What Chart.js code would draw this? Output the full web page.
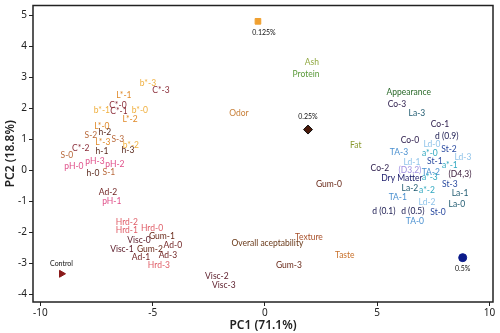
<!DOCTYPE html>
<html>
<head>
<meta charset="utf-8">
<script src="https://cdn.jsdelivr.net/npm/chart.js@4.4.1/dist/chart.umd.min.js"></script>
<style>
  html, body { margin: 0; padding: 0; background: #fff; }
  #wrap { width: 500px; height: 333px; }
</style>
</head>
<body>
<div id="wrap"><canvas id="pca"></canvas></div>
<script>
// Sample scores (PC1, PC2)
const sampleNames = ['0.125%', '0.25%', '0.5%', 'Control'];
const sampleX = [-0.31, 1.92, 8.81, -9.06];
const sampleY = [4.81, 1.32, -2.81, -3.33];

// Variable loadings (label positions, PC1 / PC2)
const varNames = [
  'b*-3', 'C*-3', 'L*-1', 'C*-0', 'b*-1', 'C*-1', 'b*-0', 'L*-2', 'Odor', 'L*-0',
  'S-2', 'h-2', 'L*-3', 'S-3', 'b*-2', 'h-1', 'h-3', 'C*-2', 'S-0', 'pH-0',
  'pH-3', 'pH-2', 'h-0', 'S-1', 'Ad-2', 'pH-1', 'Hrd-2', 'Hrd-1', 'Hrd-0', 'Visc-0',
  'Gum-1', 'Visc-1', 'Gum-2', 'Ad-0', 'Ad-1', 'Ad-3', 'Hrd-3', 'Visc-2', 'Visc-3',
  'Overall aceptability', 'Texture', 'Taste', 'Gum-3', 'Gum-0',
  'Ash', 'Protein', 'Appearance', 'Co-3', 'La-3', 'Co-1', 'd (0.9)', 'Fat', 'Co-0',
  'Ld-0', 'St-2', 'TA-3', 'a*-0', 'Ld-3', 'Ld-1', 'St-1', 'a*-1', 'Co-2', '(D3,2)',
  'TA-2', '(D4,3)', 'Dry Matter', 'a*-3', 'St-3', 'La-2', 'a*-2', 'La-1', 'TA-1',
  'Ld-2', 'La-0', 'd (0.1)', 'd (0.5)', 'St-0', 'TA-0'
];
const varX = [
  -5.21, -4.63, -6.28, -6.55, -7.26, -6.50, -5.57, -6.01, -1.16, -7.26,
  -7.75, -7.13, -7.22, -6.55, -5.97, -7.26, -6.10, -8.20, -8.82, -8.51,
  -7.57, -6.68, -7.66, -6.95, -6.99, -6.82, -6.15, -6.15, -5.03, -5.61,
  -4.59, -6.37, -5.12, -4.10, -5.52, -4.32, -4.72, -2.14, -1.83,
  0.11, 1.96, 3.56, 1.07, 2.85,
  2.09, 1.83, 6.41, 5.88, 6.77, 7.80, 8.10, 4.05, 6.46,
  7.44, 8.20, 5.97, 7.35, 8.82, 6.55, 7.57, 8.24, 5.12, 6.46,
  7.39, 8.69, 6.10, 7.35, 8.24, 6.46, 7.22, 8.69, 5.92,
  7.22, 8.55, 5.30, 6.59, 7.71, 6.68
];
const varY = [
  2.80, 2.58, 2.42, 2.10, 1.95, 1.91, 1.95, 1.66, 1.85, 1.44,
  1.12, 1.22, 0.90, 1.00, 0.80, 0.61, 0.64, 0.71, 0.49, 0.14,
  0.30, 0.20, -0.09, -0.05, -0.69, -0.98, -1.67, -1.92, -1.87, -2.25,
  -2.12, -2.53, -2.53, -2.40, -2.79, -2.72, -3.07, -3.42, -3.71,
  -2.34, -2.15, -2.72, -3.04, -0.43,
  3.50, 3.09, 2.52, 2.14, 1.85, 1.50, 1.09, 0.80, 0.96,
  0.84, 0.68, 0.58, 0.55, 0.42, 0.27, 0.30, 0.17, 0.07, 0.01,
  -0.05, -0.12, -0.24, -0.21, -0.43, -0.56, -0.63, -0.75, -0.85,
  -1.01, -1.10, -1.32, -1.32, -1.36, -1.64
];

// colours by variable group
const groupColors = {
  'L*': '#e08a2a', 'b*': '#f0b040', 'C*': '#8b2e3a', 'h-': '#5a2a1e', 'S-': '#b8683a',
  'pH': '#e0508a', 'Ad': '#6e1f1f', 'Hr': '#e0606a', 'Vi': '#5a1a28', 'Gu': '#6a2a1a',
  'Od': '#c8803a', 'Te': '#a8502a', 'Ta': '#c8702a', 'Ov': '#6a3a1a',
  'As': '#90a840', 'Pr': '#5a9a3a', 'Fa': '#8a9a30', 'Ap': '#2a6a2a',
  'Co': '#2a1a4a', 'La': '#1f5a70', 'St': '#2a4aa0', 'TA': '#4a90d0', 'Ld': '#90c4ea',
  'a*': '#30a8c0', 'd ': '#1a1a50', '(D3': '#a090e0', '(D4': '#3a1a3a', 'Dr': '#1a1a6a'
};
function colorFor(name) {
  if (name.startsWith('(D')) return groupColors[name.slice(0, 3)];
  return groupColors[name.slice(0, 2)] || '#333';
}

// draws variable labels and sample names at data coordinates
const labelPlugin = {
  id: 'labels',
  afterDatasetsDraw(chart) {
    const ctx = chart.ctx;
    const xs = chart.scales.x, ys = chart.scales.y;
    ctx.save();
    ctx.textAlign = 'center';
    ctx.textBaseline = 'middle';
    ctx.font = '8.5px Lato';
    varNames.forEach((n, i) => {
      ctx.fillStyle = colorFor(n);
      ctx.fillText(n, xs.getPixelForValue(varX[i]), ys.getPixelForValue(varY[i]));
    });
    // sample names: above for 0.25% and Control, below otherwise
    ctx.font = '7px Lato';
    ctx.fillStyle = '#111';
    const offs = [11, -13, 11, -10];
    sampleNames.forEach((n, i) => {
      ctx.fillText(n, xs.getPixelForValue(sampleX[i]) + (i === 0 ? 6 : 0), ys.getPixelForValue(sampleY[i]) + offs[i]);
    });
    ctx.restore();
  }
};

// full frame around the plot area
const framePlugin = {
  id: 'frame',
  afterDraw(chart) {
    const a = chart.chartArea, ctx = chart.ctx;
    ctx.save();
    ctx.strokeStyle = '#222';
    ctx.lineWidth = 1.5;
    ctx.strokeRect(a.left, a.top, a.right - a.left, a.bottom - a.top);
    ctx.restore();
  }
};

// no extra room reserved for the edge tick labels
function noPadding(scale) {
  scale.paddingTop = scale.paddingBottom = 0;
  scale.paddingLeft = scale.paddingRight = 0;
  if (scale._margins) { scale._margins.top = 0; scale._margins.bottom = 0; }
  scale.getPadding = () => ({ left: 0, top: 0, right: 0, bottom: 0 });
}

const markerStyle = ['rect', 'rectRot', 'circle', 'triangle'];
const markerColor = ['#f0a030', '#4a1a0a', '#0a1a8a', '#8a1a1a'];
const markerRot = [0, 0, 0, 90];

const ctx = document.getElementById('pca').getContext('2d');
new Chart(ctx, {
  type: 'scatter',
  data: {
    datasets: sampleNames.map((n, i) => ({
      label: n,
      data: [{ x: sampleX[i], y: sampleY[i] }],
      pointStyle: markerStyle[i],
      rotation: markerRot[i],
      pointRadius: i === 1 ? 4.5 : 4,
      backgroundColor: markerColor[i],
      borderColor: i === 1 ? '#111' : markerColor[i],
      borderWidth: 1
    }))
  },
  options: {
    responsive: true,
    maintainAspectRatio: false,
    animation: false,
    layout: { padding: { top: 2, right: 7, left: 0, bottom: 0 } },
    plugins: { legend: { display: false }, tooltip: { enabled: false } },
    scales: {
      x: {
        type: 'linear',
        min: -10.33, max: 10.16,
        ticks: { stepSize: 5, includeBounds: false, color: '#222', font: { family: 'Noto Sans', size: 10 }, padding: 1 },
        grid: { drawOnChartArea: false, drawTicks: true, tickLength: 4, color: '#222' },
        border: { display: false },
        title: { display: true, text: 'PC1 (71.1%)', color: '#222', font: { family: 'Noto Sans', size: 12, weight: '600' }, padding: { top: 0, bottom: 0 } },
        afterFit(scale) { scale.height = 31; }
      },
      y: {
        type: 'linear',
        min: -4.24, max: 5.32,
        ticks: { stepSize: 1, includeBounds: false, color: '#222', font: { family: 'Noto Sans', size: 10 }, padding: 2 },
        grid: { drawOnChartArea: false, drawTicks: true, tickLength: 4, color: '#222' },
        border: { display: false },
        title: { display: true, text: 'PC2 (18.8%)', color: '#222', font: { family: 'Noto Sans', size: 12, weight: '600' }, padding: { top: 3, bottom: 0 } },
        afterFit(scale) { scale.width = 33; noPadding(scale); }
      }
    }
  },
  plugins: [labelPlugin, framePlugin]
});
</script>
</body>
</html>
